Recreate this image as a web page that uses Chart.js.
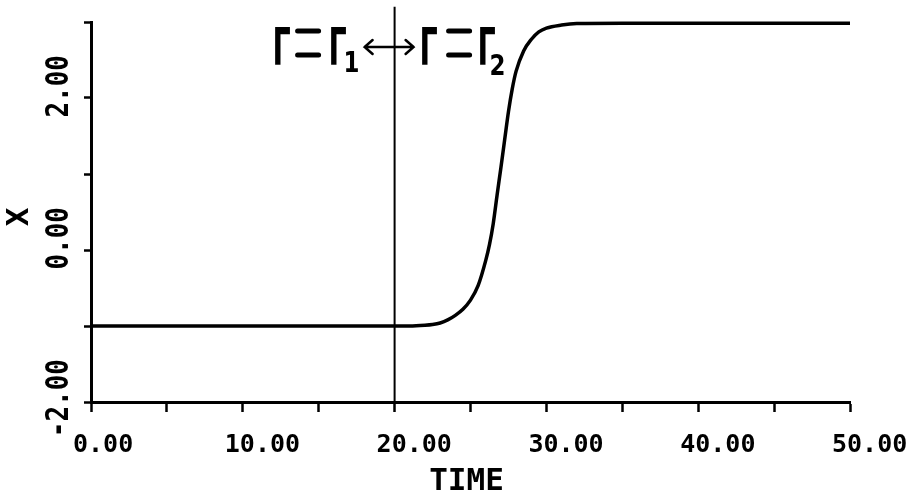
<!DOCTYPE html>
<html>
<head>
<meta charset="utf-8">
<script src="https://cdn.jsdelivr.net/npm/chart.js@4.4.1/dist/chart.umd.min.js"></script>
<style>
  html, body { margin: 0; padding: 0; background: #ffffff; }
  #wrap { width: 918px; height: 495px; }
</style>
</head>
<body>
<div id="wrap"><canvas id="c" width="918" height="495"></canvas></div>
<script>
// ---- data ----
const timeValues = [0, 20, 21, 22, 22.5, 23, 23.5, 24, 24.5, 25, 25.5, 26, 26.25, 26.5, 26.75, 27, 27.25, 27.5, 27.75, 28, 28.5, 29, 29.5, 30, 31, 32, 35, 50];
const xValues    = [-1, -1, -1, -0.99, -0.98, -0.96, -0.92, -0.86, -0.78, -0.66, -0.47, -0.14, 0.07, 0.35, 0.72, 1.08, 1.45, 1.82, 2.12, 2.35, 2.62, 2.77, 2.87, 2.92, 2.96, 2.98, 2.985, 2.985];

const switchTime = 20;
const switchLineY = [-2, 3.2];

const xLabelValues = [0, 10, 20, 30, 40, 50];
const xLabelTexts  = ['0.00', '10.00', '20.00', '30.00', '40.00', '50.00'];
const yLabelValues = [-2, 0, 2];
const yLabelTexts  = ['-2.00', '0.00', '2.00'];

const xTitle = 'TIME';
const yTitle = 'X';
const gammaSymbol = 'Γ';
const leftSub = '1';
const rightSub = '2';

// ---- plugin for tick labels, titles and the Γ annotation ----
const decor = {
  id: 'decor',
  afterDraw(chart) {
    const ctx = chart.ctx;
    const ys = chart.scales.y, xs = chart.scales.x;
    ctx.save();
    ctx.fillStyle = '#000';
    ctx.strokeStyle = '#000';

    // x tick labels, left-aligned a little before each tick
    ctx.font = 'bold 25px "DejaVu Sans Mono"';
    ctx.textAlign = 'left';
    ctx.textBaseline = 'alphabetic';
    xLabelValues.forEach((v, i) => {
      const px = xs.getPixelForValue(v);
      ctx.fillText(xLabelTexts[i], px - 18, 452);
    });

    // y tick labels, rotated, right-aligned (end toward top)
    ctx.font = 'bold 26px "DejaVu Sans Mono"';
    yLabelValues.forEach((v, i) => {
      const py = ys.getPixelForValue(v);
      ctx.save();
      ctx.translate(68, py - 43);
      ctx.rotate(-Math.PI / 2);
      ctx.scale(1, 1.2);
      ctx.textAlign = 'right';
      ctx.textBaseline = 'alphabetic';
      ctx.fillText(yLabelTexts[i], 0, 0);
      ctx.restore();
    });

    // y title
    ctx.save();
    ctx.translate(20, 217);
    ctx.rotate(-Math.PI / 2);
    ctx.font = 'bold 31px "DejaVu Sans Mono"';
    ctx.textAlign = 'center';
    ctx.textBaseline = 'middle';
    ctx.fillText(yTitle, 0, 0);
    ctx.restore();

    // x title
    ctx.font = 'bold 31px "DejaVu Sans Mono"';
    ctx.textAlign = 'center';
    ctx.textBaseline = 'alphabetic';
    ctx.fillText(xTitle, (chart.chartArea.left + chart.chartArea.right) / 2 - 4, 490);

    // annotation around the switch line
    const x0 = xs.getPixelForValue(switchTime);
    const drawG = (cx) => {
      ctx.save();
      ctx.translate(cx, 65);
      ctx.scale(0.55, 1);
      ctx.font = 'bold 52px "DejaVu Sans"';
      ctx.textAlign = 'center';
      ctx.textBaseline = 'alphabetic';
      ctx.fillText(gammaSymbol, 0, 0);
      ctx.restore();
    };
    const drawEq = (lx) => {
      ctx.lineWidth = 5;
      ctx.lineCap = 'round';
      ctx.beginPath();
      ctx.moveTo(lx + 2, 31); ctx.lineTo(lx + 23, 31);
      ctx.moveTo(lx + 2, 55); ctx.lineTo(lx + 23, 55);
      ctx.stroke();
    };
    const drawSub = (t, cx, base) => {
      ctx.save();
      ctx.translate(cx, base);
      ctx.scale(0.85, 1.05);
      ctx.font = 'bold 27px "DejaVu Sans"';
      ctx.textAlign = 'center';
      ctx.textBaseline = 'alphabetic';
      ctx.fillText(t, 0, 0);
      ctx.restore();
    };
    drawG(x0 - 113);
    drawEq(x0 - 99);
    drawG(x0 - 57);
    drawSub(leftSub, x0 - 43, 72);
    // double arrow
    ctx.lineWidth = 2.5;
    ctx.lineCap = 'round';
    ctx.beginPath();
    ctx.moveTo(x0 - 30, 47); ctx.lineTo(x0 + 19, 47);
    ctx.moveTo(x0 - 22, 40); ctx.lineTo(x0 - 30, 47); ctx.lineTo(x0 - 22, 54);
    ctx.moveTo(x0 + 11, 40); ctx.lineTo(x0 + 19, 47); ctx.lineTo(x0 + 11, 54);
    ctx.stroke();
    drawG(x0 + 34);
    drawEq(x0 + 52);
    drawG(x0 + 92);
    drawSub(rightSub, x0 + 103, 75);
    ctx.restore();
  }
};

new Chart(document.getElementById('c'), {
  type: 'line',
  data: {
    datasets: [
      {
        data: timeValues.map((t, i) => ({ x: t, y: xValues[i] })),
        borderColor: '#000',
        borderWidth: 3.5,
        pointRadius: 0,
        cubicInterpolationMode: 'monotone',
        clip: false
      },
      {
        data: switchLineY.map(v => ({ x: switchTime, y: v })),
        borderColor: '#000',
        borderWidth: 2,
        pointRadius: 0,
        clip: false
      }
    ]
  },
  options: {
    responsive: false,
    devicePixelRatio: 1,
    animation: false,
    layout: { padding: { left: 0, top: 22, right: 68, bottom: 0 } },
    plugins: { legend: { display: false }, tooltip: { enabled: false } },
    scales: {
      x: {
        type: 'linear',
        min: 0, max: 50,
        afterFit(scale) { scale.height = 93; },
        border: { display: true, color: '#000', width: 3 },
        grid: { drawOnChartArea: false, drawTicks: true, tickLength: 10, tickWidth: 2.5, tickColor: '#000' },
        ticks: { stepSize: 5, display: false }
      },
      y: {
        type: 'linear',
        min: -2, max: 3,
        afterFit(scale) { scale.width = 91; },
        border: { display: true, color: '#000', width: 3 },
        grid: { drawOnChartArea: false, drawTicks: true, tickLength: 7, tickWidth: 2.5, tickColor: '#000' },
        ticks: { stepSize: 1, display: false }
      }
    }
  },
  plugins: [decor]
});
</script>
</body>
</html>
